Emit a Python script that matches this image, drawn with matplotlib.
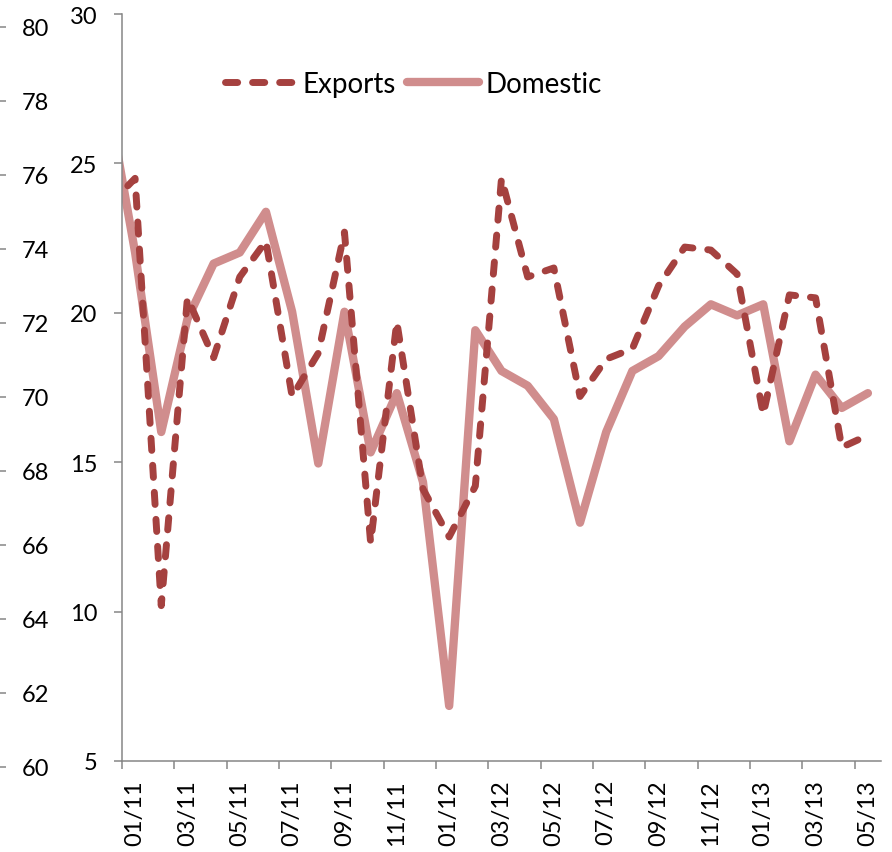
import matplotlib
matplotlib.use('Agg')
import matplotlib.pyplot as plt
import numpy as np

# monthly categories (12/10 only feeds the clipped segment at the left edge)
months = ['12/10',
          '01/11', '02/11', '03/11', '04/11', '05/11', '06/11', '07/11', '08/11', '09/11', '10/11', '11/11', '12/11',
          '01/12', '02/12', '03/12', '04/12', '05/12', '06/12', '07/12', '08/12', '09/12', '10/12', '11/12', '12/12',
          '01/13', '02/13', '03/13', '04/13', '05/13']

# inner axis (5-30)
exports = [23.6,
           24.5, 10.2, 20.5, 18.5, 21.2, 22.4, 17.2, 18.65, 22.7, 12.3, 19.7, 14.1,
           12.5, 14.2, 24.5, 21.2, 21.5, 17.2, 18.45, 18.8, 20.9, 22.2, 22.1, 21.3,
           16.6, 20.6, 20.5, 15.5, 15.9]

# outer axis (60-80)
domestic = [77.9,
            73.9, 69.05, 72.1, 73.6, 73.9, 75.0, 72.3, 68.2, 72.3, 68.5, 70.1, 67.7,
            61.65, 71.8, 70.7, 70.3, 69.4, 66.6, 69.05, 70.7, 71.1, 71.9, 72.5, 72.2,
            72.5, 68.8, 70.6, 69.7, 70.1]

inner_ticks = [5, 10, 15, 20, 25, 30]
outer_ticks = [60, 62, 64, 66, 68, 70, 72, 74, 76, 78, 80]

exp_color = '#A5413F'
dom_color = '#D08D8D'
axis_grey = '#868686'

plt.rcParams['font.family'] = ['Lato', 'DejaVu Sans']

W, H = 892, 853
fig = plt.figure(figsize=(W / 100, H / 100), dpi=100)
ax = fig.add_axes([122 / W, (H - 762) / H, 759 / W, 747 / H])
ax2 = fig.add_axes([122 / W, (H - 768) / H, 759 / W, (768 - 27.7) / H])

x = np.arange(len(months)) - 1

l1, = ax.plot(x, exports, color=exp_color, lw=5, dashes=(1.75, 2.15),
              dash_capstyle='round', dash_joinstyle='round', label='Exports')
l2, = ax2.plot(x, domestic, color=dom_color, lw=6, solid_capstyle='round',
               solid_joinstyle='round', label='Domestic')

ax.set_zorder(2)
ax.patch.set_visible(False)
ax2.set_zorder(1)

# inner axis
ax.set_xlim(-0.5, len(months) - 1.5)
ax.set_ylim(5, 30)
ax.set_yticks(inner_ticks)
for s in ['top', 'right']:
    ax.spines[s].set_visible(False)
for s in ['left', 'bottom']:
    ax.spines[s].set_color(axis_grey)
    ax.spines[s].set_linewidth(1.1)
ax.tick_params(axis='y', length=5.8, width=1.1, color=axis_grey, pad=12, labelsize=17)

ax.set_xticks(np.arange(-0.5, len(months) - 2, 2))
ax.set_xticks(x[1::2], minor=True)
ax.set_xticklabels(months[1::2], minor=True, rotation=90)
ax.tick_params(axis='x', which='major', length=6, width=1.1, color=axis_grey, labelbottom=False)
ax.tick_params(axis='x', which='minor', length=0, pad=13, labelsize=17)

# outer axis, ticks at the far left with labels to their right
ax2.patch.set_visible(False)
ax2.set_xlim(-0.5, len(months) - 1.5)
ax2.set_ylim(60, 80)
ax2.set_xticks([])
ax2.set_yticks(outer_ticks)
off = (6 - 122) / 759
ax2.spines['left'].set_position(('axes', off))
ax2.spines['right'].set_position(('axes', off))
for s in ax2.spines.values():
    s.set_visible(False)
ax2.tick_params(axis='y', left=True, right=False, labelleft=False, labelright=True,
                direction='out', length=4.3, width=1.1, color=axis_grey, pad=7.2, labelsize=17)

fig.legend(handles=[l1, l2], loc='center left', bbox_to_anchor=(225 / W, 1 - 85 / H),
           ncol=2, frameon=False, fontsize=20, handlelength=2.6, handletextpad=0.2,
           columnspacing=0.4, borderpad=0, borderaxespad=0)

fig.savefig('out.png', dpi=100)
